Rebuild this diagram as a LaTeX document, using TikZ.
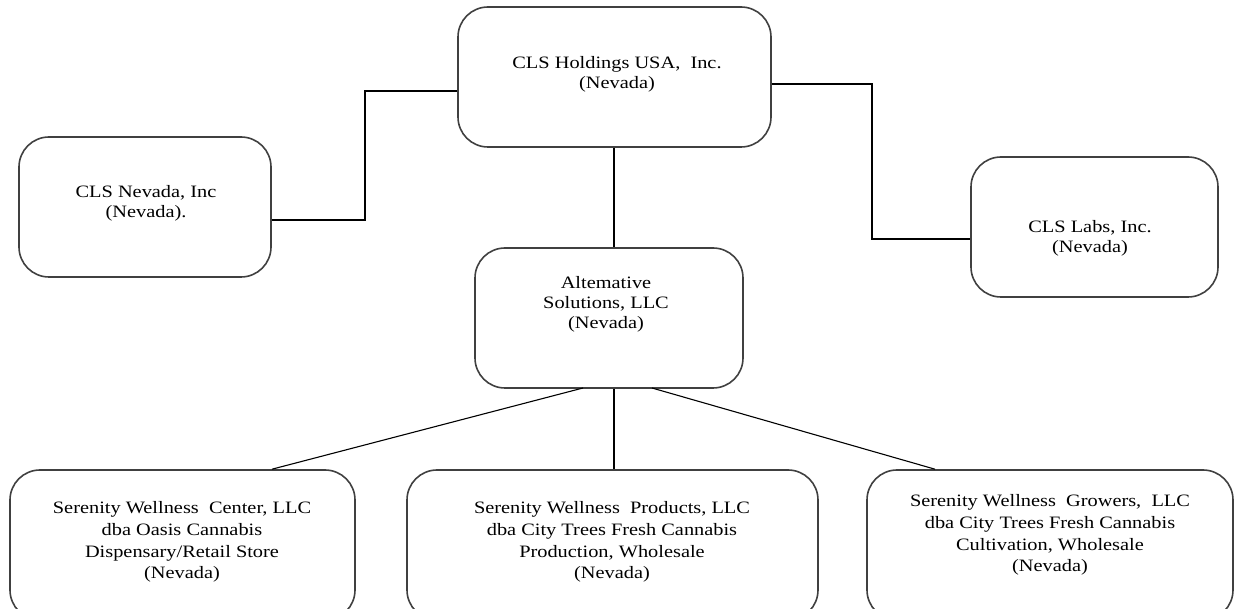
\documentclass[tikz,border=0pt]{standalone}
\usepackage{fontspec}
\setmainfont{Liberation Serif}
\newfontfamily\wideserif[FakeStretch=1.17]{Liberation Serif}
\begin{document}
\begin{tikzpicture}[x=1pt,y=-1pt,
  box/.style={draw=black!75, line width=1.6pt, rounded corners=30pt, inner sep=0pt},
  txt/.style={align=center, font=\wideserif\fontsize{17.4}{20}\selectfont, text=black, inner sep=0pt},
  btxt/.style={align=center, font=\wideserif\fontsize{17.4}{21.7}\selectfont, text=black, inner sep=0pt},
  link/.style={draw=black, line width=1.1pt}]
\useasboundingbox (0,0) rectangle (1235,609);
% boxes
\node[box, minimum width=313pt, minimum height=140pt] (top) at (614.5,77) {};
\node[box, minimum width=252pt, minimum height=140pt] (nev) at (145,207) {};
\node[box, minimum width=247pt, minimum height=140pt] (labs) at (1094.5,227) {};
\node[box, minimum width=268pt, minimum height=140pt] (alt) at (609,318) {};
\node[box, minimum width=345pt, minimum height=150pt] (swc) at (182.5,545) {};
\node[box, minimum width=411pt, minimum height=150pt] (swp) at (612.5,545) {};
\node[box, minimum width=366pt, minimum height=150pt] (swg) at (1050,545) {};
% texts
\node[txt] (ttop) at (617,74) {CLS Holdings USA,\ \ Inc.\\(Nevada)};
\node[txt] (tnev) at (146,203) {CLS Nevada, Inc\\(Nevada).};
\node[txt] (tlabs) at (1090,238) {CLS Labs, Inc.\\(Nevada)};
\node[txt] (talt) at (606,304) {Altemative\\Solutions, LLC\\(Nevada)};
\node[btxt] (tswc) at (182,542) {Serenity Wellness\ \ Center, LLC\\dba Oasis Cannabis\\Dispensary/Retail Store\\(Nevada)};
\node[btxt] (tswp) at (612,542) {Serenity Wellness\ \ Products, LLC\\dba City Trees Fresh Cannabis\\Production, Wholesale\\(Nevada)};
\node[btxt] (tswg) at (1050,535) {Serenity Wellness\ \ Growers,\ \ LLC\\dba City Trees Fresh Cannabis\\Cultivation, Wholesale\\(Nevada)};
% connectors
\coordinate (a1) at (top.west |- 0,91);
\coordinate (a2) at (nev.east |- 0,220);
\draw[link] (a1) -- (365,91) -- (365,220) -- (a2);
\coordinate (b1) at (top.east |- 0,84);
\coordinate (b2) at (labs.west |- 0,239);
\draw[link] (b1) -- (872,84) -- (872,239) -- (b2);
\draw[link] (top.south -| 614,0) -- (alt.north -| 614,0);
\coordinate (c1) at (583,388);
\coordinate (c3) at (652,388);
\draw[link] (c1) -- (swc.north -| 272,0);
\draw[link] (alt.south -| 614,0) -- (swp.north -| 614,0);
\draw[link] (c3) -- (swg.north -| 935,0);
\end{tikzpicture}
\end{document}
